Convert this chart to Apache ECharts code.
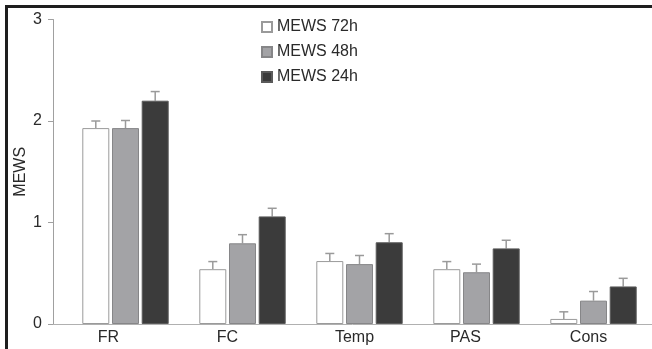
<!DOCTYPE html>
<html>
<head>
<meta charset="utf-8">
<script src="https://cdn.jsdelivr.net/npm/echarts@6/dist/echarts.min.js"></script>
<style>
  html, body { margin: 0; padding: 0; background: #fff; }
  #chart { position: absolute; left: 0; top: 0; width: 652px; height: 349px; }
  #frame { position: absolute; left: 5px; top: 5px; width: 700px; height: 400px;
           border-left: 3px solid #1e1e1e; border-top: 3px solid #1e1e1e; pointer-events: none; }
</style>
</head>
<body>
<div id="chart"></div>
<div id="frame"></div>
<script>
const categories = ['FR', 'FC', 'Temp', 'PAS', 'Cons'];
const seriesNames = ['MEWS 72h', 'MEWS 48h', 'MEWS 24h'];
const mews72 = [1.93, 0.54, 0.62, 0.54, 0.05];
const mews48 = [1.93, 0.795, 0.59, 0.51, 0.23];
const mews24 = [2.20, 1.06, 0.805, 0.745, 0.37];
const err72 = [0.07, 0.075, 0.075, 0.075, 0.07];
const err48 = [0.075, 0.085, 0.085, 0.08, 0.09];
const err24 = [0.09, 0.08, 0.085, 0.08, 0.08];
const yTicks = [0, 1, 2, 3];
const labelShift = [34, 30, 10, 22, 10];

const values = [mews72, mews48, mews24];
const errors = [err72, err48, err24];
const fills = ['#ffffff', '#a3a3a6', '#3b3b3b'];
const borders = ['#9a9a9a', '#868688', '#5a5a5a'];
const BAR_W = 27, GAP = 2.7;
const FONT = '"Liberation Sans", Arial, Helvetica, sans-serif';

const chart = echarts.init(document.getElementById('chart'));

const barSeries = values.map((vals, i) => ({
  name: seriesNames[i],
  type: 'bar',
  xAxisIndex: 1, yAxisIndex: 1,
  data: vals,
  barWidth: BAR_W,
  barGap: '10%',
  itemStyle: { color: fills[i], borderColor: borders[i], borderWidth: 1 },
  emphasis: { disabled: true },
  z: 2
}));

const errSeries = values.map((vals, i) => ({
  type: 'custom',
  xAxisIndex: 1, yAxisIndex: 1,
  data: vals.map((v, k) => [k, v, errors[i][k]]),
  silent: true,
  z: 1,
  renderItem: function (params, api) {
    const k = api.value(0), v = api.value(1), e = api.value(2);
    const base = api.coord([k, v]);
    const top = api.coord([k, v + e]);
    const x = base[0] + (i - 1) * (BAR_W + GAP);
    const style = { stroke: '#9a9a9a', lineWidth: 1.5 };
    return {
      type: 'group',
      children: [
        { type: 'line', shape: { x1: x, y1: base[1], x2: x, y2: top[1] }, style },
        { type: 'line', shape: { x1: x - 4.5, y1: top[1], x2: x + 4.5, y2: top[1] }, style }
      ]
    };
  }
}));

chart.setOption({
  animation: false,
  backgroundColor: '#fff',
  textStyle: { fontFamily: FONT },
  legend: {
    orient: 'vertical',
    left: 261, top: 19, padding: 0,
    icon: 'rect',
    itemWidth: 10, itemHeight: 10, itemGap: 9,
    data: seriesNames,
    textStyle: { fontSize: 16, color: '#2a2a2a', fontFamily: FONT },
    selectedMode: false
  },
  grid: [
    { left: 53, top: 19.5, bottom: 25, width: 620 },
    { left: 67, top: 19.5, bottom: 25, width: 595 }
  ],
  xAxis: [
    { type: 'value', gridIndex: 0, min: 0, max: 1, show: true,
      axisLine: { show: true, lineStyle: { color: '#b0b0b0', width: 1 } },
      axisTick: { show: false }, axisLabel: { show: false }, splitLine: { show: false } },
    { type: 'category', gridIndex: 1,
      data: categories.map((c, k) => ({ value: c, textStyle: { padding: [0, labelShift[k], 0, 0] } })),
      axisLine: { show: false }, axisTick: { show: false },
      axisLabel: { fontSize: 16, color: '#2a2a2a', margin: 6, fontFamily: FONT } }
  ],
  yAxis: [
    { type: 'value', gridIndex: 0, min: 0, max: 3, interval: 1,
      name: 'MEWS', nameLocation: 'middle', nameRotate: 90, nameGap: 24,
      nameMoveOverlap: false,
      nameTextStyle: { fontSize: 16, color: '#2a2a2a', fontFamily: FONT },
      axisLine: { show: true, lineStyle: { color: '#a0a0a0', width: 1 } },
      axisTick: { show: true, length: 5, lineStyle: { color: '#a0a0a0' } },
      axisLabel: { fontSize: 16, color: '#2a2a2a', margin: 11, fontFamily: FONT,
        formatter: v => yTicks.includes(v) ? String(v) : '' },
      splitLine: { show: false } },
    { type: 'value', gridIndex: 1, min: 0, max: 3, interval: 1, show: false, splitLine: { show: false } }
  ],
  series: [...barSeries, ...errSeries]
});
</script>
</body>
</html>
